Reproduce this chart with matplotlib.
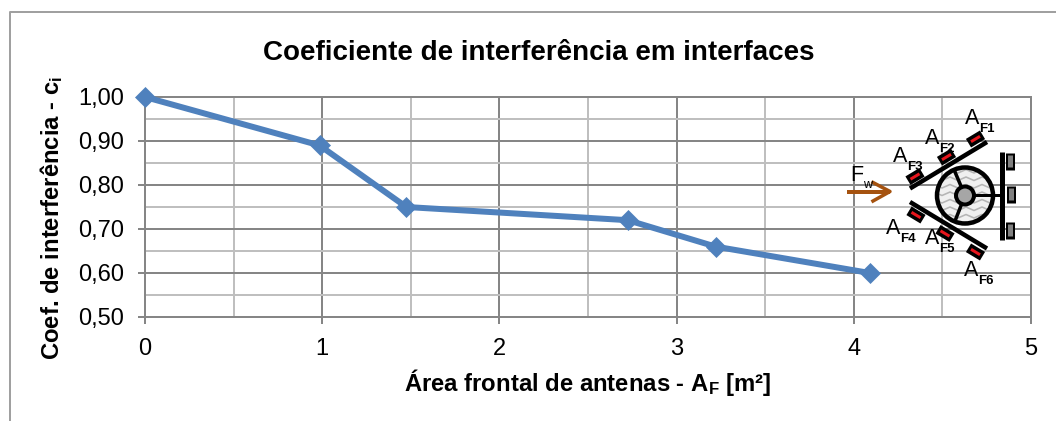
import numpy as np
import matplotlib
matplotlib.use('Agg')
import matplotlib.pyplot as plt
from matplotlib.patches import Circle

plt.rcParams['font.family'] = ['Liberation Sans', 'DejaVu Sans']
plt.rcParams['mathtext.fontset'] = 'custom'
plt.rcParams['mathtext.rm'] = 'Liberation Sans'
plt.rcParams['mathtext.bf'] = 'Liberation Sans:bold'
plt.rcParams['mathtext.default'] = 'bf'

area = [0, 0.985, 1.475, 2.725, 3.22, 4.09]
coef = [1.00, 0.89, 0.75, 0.72, 0.66, 0.60]
x_ticks = [0, 1, 2, 3, 4, 5]
y_ticks = [0.5, 0.6, 0.7, 0.8, 0.9, 1.0]
y_labels = ['0,50', '0,60', '0,70', '0,80', '0,90', '1,00']

W, H = 1056, 421
DARK = '#868686'
LIGHT = '#bfbfbf'
BLUE = '#4f81bd'
BROWN = '#a5520f'


def px(v):
    # pixels to points at dpi 100
    return v * 0.72


def draw_diagram(ov):
    # wheel
    ov.add_patch(Circle((965, 195.5), 28, fc='#f0f0f0', ec='none', zorder=6))
    wave_clip = Circle((965, 195.5), 28, transform=ov.transData)
    for wy in np.arange(162, 232, 7.5):
        wx = np.arange(934, 1000, 8)
        zig = wy + 3.5 * (np.arange(len(wx)) % 2)
        ln, = ov.plot(wx, zig, color='#b5b5b5', lw=px(1.6), zorder=6)
        ln.set_clip_path(wave_clip)
    ov.add_patch(Circle((965, 195.5), 28, fc='none', ec='black', lw=px(4.5), zorder=7))
    ov.plot([955, 965], [172, 195.5], color='black', lw=px(3.5), zorder=7)
    ov.plot([955, 965], [221, 195.5], color='black', lw=px(3.5), zorder=7)
    ov.plot([965, 1001], [195, 195], color='black', lw=px(3), zorder=7)
    ov.add_patch(Circle((965, 195.5), 9, fc='#a6a6a6', ec='black', lw=px(4), zorder=8))

    # plates
    ov.plot([910, 987], [188.5, 142], color='black', lw=px(4.5), zorder=7, solid_capstyle='butt')
    ov.plot([910, 987], [202, 248.5], color='black', lw=px(4.5), zorder=7, solid_capstyle='butt')
    ov.plot([1001.5, 1001.5], [152, 240], color='black', lw=px(5), zorder=7, solid_capstyle='butt')

    # antennas on the plates
    ant_x = [975.5, 946.5, 915, 916, 945, 975.5]
    ant_y = [139, 157, 176.5, 215, 233.5, 252]
    for i in range(6):
        s = -1 if i < 3 else 1
        ov.plot([ant_x[i] - 7, ant_x[i] + 7], [ant_y[i] - s * 4.2, ant_y[i] + s * 4.2], color='black',
                lw=px(10), solid_capstyle='butt', solid_joinstyle='round', zorder=7)
        ov.plot([ant_x[i] - 4.5, ant_x[i] + 4.5], [ant_y[i] - s * 2.7, ant_y[i] + s * 2.7], color='#e8161d',
                lw=px(3), solid_capstyle='butt', zorder=8)

    # feet on the right
    for fx, fy in [(1010, 161), (1011, 194), (1010, 230)]:
        ov.plot([fx, fx], [fy - 8.5, fy + 8.5], color='black', lw=px(9), solid_capstyle='butt', zorder=7)
        ov.plot([fx, fx], [fy - 6, fy + 6], color='#808080', lw=px(5), solid_capstyle='butt', zorder=8)

    # wind arrow
    ov.plot([847, 890], [191.5, 191.5], color=BROWN, lw=px(4), zorder=7, solid_capstyle='butt')
    ov.plot([873, 890, 873], [182.5, 191.5, 201], color=BROWN, lw=px(3.5), zorder=7)
    ov.text(850.5, 181, 'F', fontsize=15.5, ha='left', va='baseline', zorder=9)
    ov.text(863, 188.5, 'w', fontsize=9, ha='left', va='baseline', zorder=9)

    # antenna labels
    lab_x = [965, 925, 893, 886, 925, 964]
    lab_y = [123.5, 144, 161.5, 234, 244, 276]
    names = ['F1', 'F2', 'F3', 'F4', 'F5', 'F6']
    for i in range(6):
        ov.text(lab_x[i], lab_y[i], 'A', fontsize=15.5, ha='left', va='baseline', zorder=9)
        ov.text(lab_x[i] + 14, lab_y[i] + 8, names[i], fontsize=9.5, fontweight='bold',
                ha='left', va='baseline', zorder=9)


def main():
    fig = plt.figure(figsize=(W / 100, H / 100), dpi=100)
    ax = fig.add_axes([145 / W, 1 - 317 / H, 886 / W, 220 / H])

    ax.plot(area, coef, color=BLUE, lw=px(6), marker='D', ms=10, mec=BLUE, mew=0.5, clip_on=False, zorder=5,
            solid_joinstyle='round')

    ax.set_xlim(0, 5)
    ax.set_ylim(0.5, 1.0)
    ax.set_xticks(x_ticks)
    ax.set_yticks(y_ticks)
    ax.set_yticklabels(y_labels)
    ax.set_xticks(np.arange(0.5, 5, 1), minor=True)
    ax.set_yticks(np.arange(0.55, 1.0, 0.1), minor=True)
    ax.grid(which='major', color=DARK, lw=px(2))
    ax.grid(which='minor', color=LIGHT, lw=px(2))
    ax.set_axisbelow(True)
    ax.tick_params(which='major', color=DARK, width=px(2), length=px(7), labelsize=17)
    ax.tick_params(axis='y', which='major', pad=10)
    ax.tick_params(axis='x', which='major', pad=10)
    ax.tick_params(which='minor', length=0)
    for s in ax.spines.values():
        s.set_color(DARK)
        s.set_linewidth(px(2))

    ax.set_xlabel('Área frontal de antenas - A$_{F}$ [m²]', fontsize=17.2, fontweight='bold', va='center')
    ax.xaxis.set_label_coords(587.5 / W, 1 - 383 / H, transform=fig.transFigure)
    ax.set_ylabel('Coef. de interferência - c$_{i}$', fontsize=17.2, fontweight='bold', va='center')
    ax.yaxis.set_label_coords(52 / W, 1 - 218 / H, transform=fig.transFigure)
    fig.text(539 / W, 1 - 53.5 / H, 'Coeficiente de interferência em interfaces', fontsize=20,
             fontweight='bold', ha='center', va='center')

    # overlay in image pixels for the outer frame and the little diagram
    ov = fig.add_axes([0, 0, 1, 1], facecolor='none')
    ov.set_xlim(0, W)
    ov.set_ylim(H, 0)
    ov.axis('off')
    ov.plot([9.5, 9.5, W], [H, 11.5, 11.5], color='#a0a0a0', lw=px(2))
    draw_diagram(ov)

    plt.savefig('out.png', dpi=100)


if __name__ == '__main__':
    main()
